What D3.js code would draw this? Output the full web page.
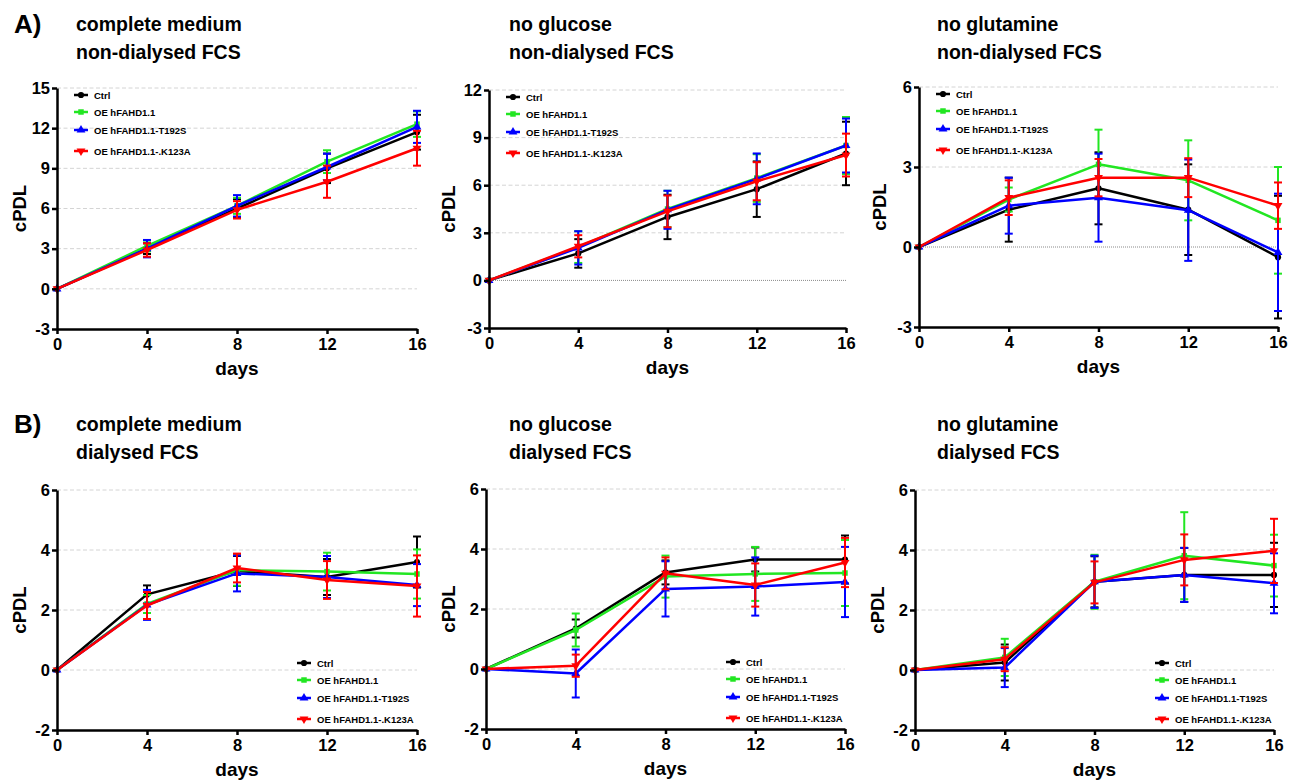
<!DOCTYPE html>
<html>
<head>
<meta charset="utf-8">
<script src="https://cdn.jsdelivr.net/npm/d3@7"></script>
<style>
  body { margin: 0; background: #fff; }
  text { font-family: "Liberation Sans", Arial, sans-serif; font-weight: bold; fill: #000; }
</style>
</head>
<body>
<svg id="chart" width="1299" height="781"></svg>
<script>
// x values and series
var days = [0, 4, 8, 12, 16];
var seriesNames = ["Ctrl", "OE hFAHD1.1", "OE hFAHD1.1-T192S", "OE hFAHD1.1-.K123A"];
var seriesColors = ["#000000", "#22e622", "#0000ff", "#ff0000"];

// y tick labels
var ticksA1 = [-3, 0, 3, 6, 9, 12, 15];
var ticksA2 = [-3, 0, 3, 6, 9, 12];
var ticksA3 = [-3, 0, 3, 6];
var ticksB = [-2, 0, 2, 4, 6];

// A) non-dialysed FCS  (rows: Ctrl, hFAHD1.1, T192S, K123A)
var a1Mean = [[0, 3.0, 6.0, 9.0, 11.7], [0, 3.2, 6.2, 9.5, 12.3], [0, 3.0, 6.2, 9.1, 12.1], [0, 2.9, 5.9, 8.0, 10.5]];
var a1Err  = [[0, 0.4, 0.7, 1.1, 1.3], [0, 0.4, 0.6, 0.85, 0.95], [0, 0.65, 0.8, 1.0, 1.2], [0, 0.5, 0.65, 1.2, 1.3]];
var a2Mean = [[0, 1.7, 4.0, 5.75, 8.0], [0, 2.1, 4.5, 6.45, 8.5], [0, 2.05, 4.45, 6.4, 8.5], [0, 2.15, 4.35, 6.25, 7.9]];
var a2Err  = [[0, 0.9, 1.4, 1.75, 2.0], [0, 1.0, 1.15, 1.5, 1.8], [0, 1.05, 1.2, 1.6, 1.7], [0, 0.7, 1.0, 1.2, 1.35]];
var a3Mean = [[0, 1.4, 2.2, 1.4, -0.38], [0, 1.78, 3.1, 2.5, 1.0], [0, 1.55, 1.85, 1.38, -0.2], [0, 1.85, 2.6, 2.6, 1.55]];
var a3Err  = [[0, 1.2, 1.35, 1.7, 2.3], [0, 0.45, 1.3, 1.5, 2.0], [0, 1.05, 1.65, 1.9, 2.2], [0, 0.65, 0.7, 0.73, 0.87]];

// B) dialysed FCS
var b1Mean = [[0, 2.52, 3.3, 3.1, 3.6], [0, 2.2, 3.33, 3.28, 3.2], [0, 2.17, 3.22, 3.1, 2.83], [0, 2.15, 3.4, 3.0, 2.8]];
var b1Err  = [[0, 0.3, 0.5, 0.6, 0.85], [0, 0.3, 0.52, 0.63, 0.82], [0, 0.5, 0.6, 0.7, 0.7], [0, 0.45, 0.48, 0.63, 1.02]];
var b2Mean = [[0, 1.35, 3.22, 3.65, 3.65], [0, 1.3, 3.08, 3.17, 3.2], [0, -0.15, 2.67, 2.75, 2.9], [0, 0.11, 3.19, 2.8, 3.55]];
var b2Err  = [[0, 0.3, 0.4, 0.4, 0.8], [0, 0.55, 0.7, 0.9, 1.1], [0, 0.8, 0.92, 0.97, 1.17], [0, 0.37, 0.53, 0.72, 0.82]];
var b3Mean = [[0, 0.25, 2.94, 3.17, 3.17], [0, 0.42, 2.94, 3.81, 3.48], [0, 0.08, 2.94, 3.17, 2.89], [0, 0.36, 2.92, 3.67, 3.97]];
var b3Err  = [[0, 0.6, 0.85, 0.9, 1.07], [0, 0.62, 0.9, 1.45, 1.03], [0, 0.65, 0.87, 0.9, 1.0], [0, 0.4, 0.7, 0.85, 1.07]];

var svg = d3.select("#chart");

// panel layout
var panels = [
  {mean: a1Mean, err: a1Err, ticks: ticksA1, title: ["complete medium", "non-dialysed FCS"], letter: "A)",
   left: 57, right: 417, top: 88, bottom: 329, titleX: 76, titleY: 31, labelX: 26, zeroLine: false, legendLow: false},
  {mean: a2Mean, err: a2Err, ticks: ticksA2, title: ["no glucose", "non-dialysed FCS"],
   left: 489, right: 846, top: 90, bottom: 328, titleX: 509, titleY: 31, labelX: 455, zeroLine: true, legendLow: false},
  {mean: a3Mean, err: a3Err, ticks: ticksA3, title: ["no glutamine", "non-dialysed FCS"],
   left: 919, right: 1278, top: 87, bottom: 327, titleX: 937, titleY: 31, labelX: 886, zeroLine: true, legendLow: false},
  {mean: b1Mean, err: b1Err, ticks: ticksB, title: ["complete medium", "dialysed FCS"], letter: "B)",
   left: 57, right: 417, top: 490, bottom: 730, titleX: 76, titleY: 431, labelX: 26, zeroLine: false, legendLow: true},
  {mean: b2Mean, err: b2Err, ticks: ticksB, title: ["no glucose", "dialysed FCS"],
   left: 486, right: 845, top: 489, bottom: 729, titleX: 509, titleY: 431, labelX: 455, zeroLine: false, legendLow: true},
  {mean: b3Mean, err: b3Err, ticks: ticksB, title: ["no glutamine", "dialysed FCS"],
   left: 915, right: 1274, top: 490, bottom: 730, titleX: 937, titleY: 431, labelX: 884, zeroLine: false, legendLow: true}
];

function symbolPath(i) {
  var types = [d3.symbolCircle, d3.symbolSquare, d3.symbolTriangle, d3.symbolTriangle];
  var sizes = [30, 30, 34, 34];
  return d3.symbol().type(types[i]).size(sizes[i])();
}

// plain hyphen for negatives, like the original
function plain(d) { return String(d); }

function drawPanel(p) {
  var x = d3.scaleLinear().domain([0, 16]).range([p.left, p.right]);
  var y = d3.scaleLinear().domain(d3.extent(p.ticks)).range([p.bottom, p.top]);

  if (p.letter) {
    svg.append("text").attr("x", 14).attr("y", p.titleY + 2)
      .style("font-size", "26px").text(p.letter);
  }
  p.title.forEach(function(t, i) {
    svg.append("text").attr("x", p.titleX).attr("y", p.titleY + i * 28)
      .style("font-size", "19.5px").text(t);
  });

  // grid
  var g = svg.append("g");
  p.ticks.slice(1).forEach(function(v) {
    var zero = (v === 0 && p.zeroLine);
    g.append("line")
      .attr("x1", p.left).attr("x2", p.right)
      .attr("y1", y(v)).attr("y2", y(v))
      .attr("stroke", zero ? "#8a8a8a" : "#d4d4d4")
      .attr("stroke-width", 1)
      .attr("stroke-dasharray", zero ? "1,1" : "4,2.5");
  });

  // series
  var line = d3.line()
    .x(function(d, i) { return x(days[i]); })
    .y(function(d) { return y(d); });

  p.mean.forEach(function(vals, s) {
    var col = seriesColors[s];
    var sg = svg.append("g");
    sg.append("path").datum(vals)
      .attr("d", line).attr("fill", "none")
      .attr("stroke", col).attr("stroke-width", 2.5)
      .attr("stroke-linejoin", "round");

    vals.forEach(function(v, i) {
      var e = p.err[s][i];
      if (e <= 0) return;
      var cx = x(days[i]);
      sg.append("line").attr("x1", cx).attr("x2", cx)
        .attr("y1", y(v - e)).attr("y2", y(v + e))
        .attr("stroke", col).attr("stroke-width", 2);
      [v - e, v + e].forEach(function(w) {
        sg.append("line").attr("x1", cx - 4).attr("x2", cx + 4)
          .attr("y1", y(w)).attr("y2", y(w))
          .attr("stroke", col).attr("stroke-width", 2);
      });
    });

    sg.selectAll("path.mk").data(vals).enter().append("path")
      .attr("class", "mk")
      .attr("d", symbolPath(s))
      .attr("transform", function(d, i) {
        return "translate(" + x(days[i]) + "," + y(d) + ")" + (s === 3 ? " rotate(180)" : "");
      })
      .attr("fill", col);
  });

  // axes
  var ya = svg.append("g")
    .attr("transform", "translate(" + p.left + ",0)")
    .call(d3.axisLeft(y).tickValues(p.ticks).tickFormat(plain).tickSize(5).tickSizeOuter(0).tickPadding(2));
  var xa = svg.append("g")
    .attr("transform", "translate(0," + p.bottom + ")")
    .call(d3.axisBottom(x).tickValues(days).tickFormat(plain).tickSize(5).tickSizeOuter(0).tickPadding(4));
  [ya, xa].forEach(function(a) {
    a.select(".domain").attr("stroke", "#000").attr("stroke-width", 2.5);
    a.selectAll(".tick line").attr("stroke", "#000").attr("stroke-width", 2.5);
    a.selectAll(".tick text").style("font-size", "16.5px")
      .style("font-family", "'Liberation Sans', Arial, sans-serif").style("font-weight", "bold");
  });

  // axis titles
  svg.append("text")
    .attr("x", (p.left + p.right) / 2).attr("y", p.bottom + 46)
    .attr("text-anchor", "middle").style("font-size", "19px").text("days");
  svg.append("text")
    .attr("transform", "translate(" + p.labelX + "," + (p.top + p.bottom) / 2 + ") rotate(-90)")
    .attr("text-anchor", "middle").style("font-size", "18.5px").text("cPDL");

  // legend
  var lx = p.legendLow ? p.left + 240 : p.left + 17;
  var rows = p.legendLow ? [p.bottom - 67, p.bottom - 50, p.bottom - 32, p.bottom - 11]
                         : [p.top + 7, p.top + 24, p.top + 42, p.top + 63];
  seriesNames.forEach(function(name, s) {
    var ly = rows[s];
    svg.append("line").attr("x1", lx).attr("x2", lx + 14)
      .attr("y1", ly).attr("y2", ly)
      .attr("stroke", seriesColors[s]).attr("stroke-width", 2.5);
    svg.append("path").attr("d", symbolPath(s))
      .attr("transform", "translate(" + (lx + 7) + "," + ly + ")" + (s === 3 ? " rotate(180)" : ""))
      .attr("fill", seriesColors[s]);
    svg.append("text").attr("x", lx + 20).attr("y", ly + 3.5)
      .style("font-size", "9.5px").text(name);
  });
}

panels.forEach(drawPanel);
</script>
</body>
</html>
